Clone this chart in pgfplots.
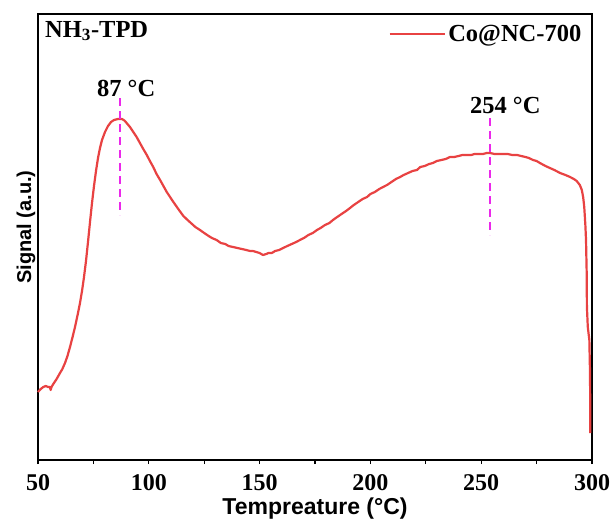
\documentclass[border=0pt]{standalone}
\usepackage{fontspec}
\setmainfont{Liberation Serif}
\newfontfamily\arialfont{Liberation Sans}
\usepackage{pgfplots}
\pgfplotsset{compat=1.18}
\definecolor{curvered}{RGB}{232,66,66}
\definecolor{mag}{RGB}{235,40,235}
\begin{document}
\begin{tikzpicture}
\begin{axis}[
  name=ax, at={(0,0)}, anchor=south west,
  scale only axis, width=554pt, height=446pt,
  xmin=50, xmax=300, ymin=0, ymax=446,
  xtick={50,100,...,300}, minor x tick num=1,
  ytick=\empty, xtick pos=bottom, tick align=outside,
  major tick length=4pt, minor tick length=4pt,
  axis line style={line width=1.4pt}, every tick/.style={line width=1.2pt, black},
  /pgf/number format/assume math mode=true,
  ticklabel style={font=\fontsize{24}{28}\selectfont\bfseries},
  xticklabel style={yshift=-7pt},
  xlabel={Tempreature (°C)}, ylabel={Signal (a.u.)},
  xlabel style={font=\arialfont\fontsize{23}{26}\selectfont\bfseries,
    at={(rel axis cs:0.5,0)}, anchor=base, yshift=-54pt},
  ylabel style={font=\arialfont\fontsize{20}{24}\selectfont\bfseries,
    at={(rel axis cs:0,0.522)}, yshift=-1pt},
  legend style={at={(rel axis cs:1,1)}, anchor=north east, draw=none, fill=none,
    font=\fontsize{24.5}{28}\selectfont\bfseries, inner sep=0pt, xshift=-8pt, yshift=-8pt,
    nodes={inner sep=2.5pt}},
  legend cell align=left,
  legend image code/.code={\draw[#1] (-2pt,0pt) -- (53pt,0pt);},
  clip=false,
]
\addplot[curvered, line width=2.2pt, line join=round] coordinates {
(50.0,68) (51.2,71) (52.4,73) (53.5,74) (54.6,73) (55.4,73) (55.7,70) (56.1,73) (56.9,76)
(58.4,81) (59.93,87) (61.0,91) (62.18,97) (63.3,104) (64.44,113) (65.6,123) (66.70,133)
(68.05,147) (68.95,157) (69.86,169) (70.76,183) (71.66,199) (72.56,218) (73.47,238)
(74.37,257) (75.27,274) (76.17,289) (77.08,302) (77.98,312) (78.88,320) (80.23,328)
(81.59,334) (82.94,338) (84.30,340) (86.10,341) (87.91,341) (89.0,339.5)
(90.0,337) (91.5,333) (93.0,328) (94.5,323) (96.0,317) (97.5,311) (99.1,305) (100.5,299)
(102.0,293) (103.5,286) (105.1,280) (106.6,274) (108.1,268) (109.6,263) (111.1,258)
(113.3,251) (115.6,244) (117.5,240) (119.0,237) (121.0,233) (123.1,230) (125.0,227)
(127.0,224) (128.5,222) (130.6,220) (132.5,217) (134.5,216) (136.0,214) (138.0,213)
(140.0,212) (142.0,211) (144.0,210) (145.7,209) (147.0,209) (148.5,208) (150.0,207)
(151.5,205) (153.0,206) (154.0,207) (155.5,207) (157.0,209) (158.8,210) (160.6,212)
(162.5,214) (164.5,216) (166.5,218) (168.2,220) (170.0,222) (172.0,225) (174.0,227)
(175.9,230) (177.5,232) (179.5,235) (181.5,237) (183.1,240) (185.0,243) (187.0,246)
(189.0,249) (190.8,252) (192.5,255) (194.5,258) (196.5,261) (198.5,263) (200.0,266)
(202.0,268) (204.0,271) (205.7,273) (207.5,275) (209.5,278) (211.5,281) (213.4,283)
(215.0,285) (217.0,287) (219.0,289) (221.0,290) (222.5,293) (224.5,294) (226.5,296)
(228.2,297) (230.0,299) (232.0,300) (234.0,301) (235.9,303) (237.8,303) (239.8,304)
(241.5,305) (243.6,305) (245.5,305) (247.0,306) (249.0,306) (250.8,306) (252.5,307)
(254.0,307) (256.0,306) (258.5,306) (260.5,306) (262.0,306) (264.0,305) (266.2,305)
(268.0,304) (270.0,303) (271.5,302) (273.4,300) (275.0,299) (276.5,297) (279.0,294)
(281.0,292) (283.0,290) (285.6,287) (288.0,285) (290.1,283) (291.8,281) (293.1,279)
(294.5,275) (295.4,270) (296.0,263) (296.5,253) (297.0,235) (297.3,220) (297.6,187)
(297.7,153) (298.1,133) (298.8,120) (299.1,87) (299.2,53) (299.2,27)
};
\addlegendentry{Co@NC-700}
\addplot[mag, line width=1.8pt, dash pattern=on 8pt off 5pt, forget plot] coordinates {(87,362) (87,245)};
\addplot[mag, line width=1.8pt, dash pattern=on 8pt off 5pt, forget plot] coordinates {(254,342) (254,225)};
\node[anchor=base west, font=\fontsize{24.5}{28}\selectfont\bfseries, inner sep=0pt] at (axis cs:76.6,364) {87 °C};
\node[anchor=base west, font=\fontsize{24.5}{28}\selectfont\bfseries, inner sep=0pt] at (axis cs:244.9,347) {254 °C};
\node[anchor=base west, font=\fontsize{24.5}{28}\selectfont\bfseries, inner sep=0pt] at (rel axis cs:0,1) [xshift=7pt, yshift=-23pt] {NH\textsubscript{3}-TPD};
\end{axis}
\pgfresetboundingbox
\path[use as bounding box] ([shift={(-38pt,-63pt)}]ax.south west) rectangle ([shift={(22pt,14pt)}]ax.north east);
\end{tikzpicture}
\end{document}
